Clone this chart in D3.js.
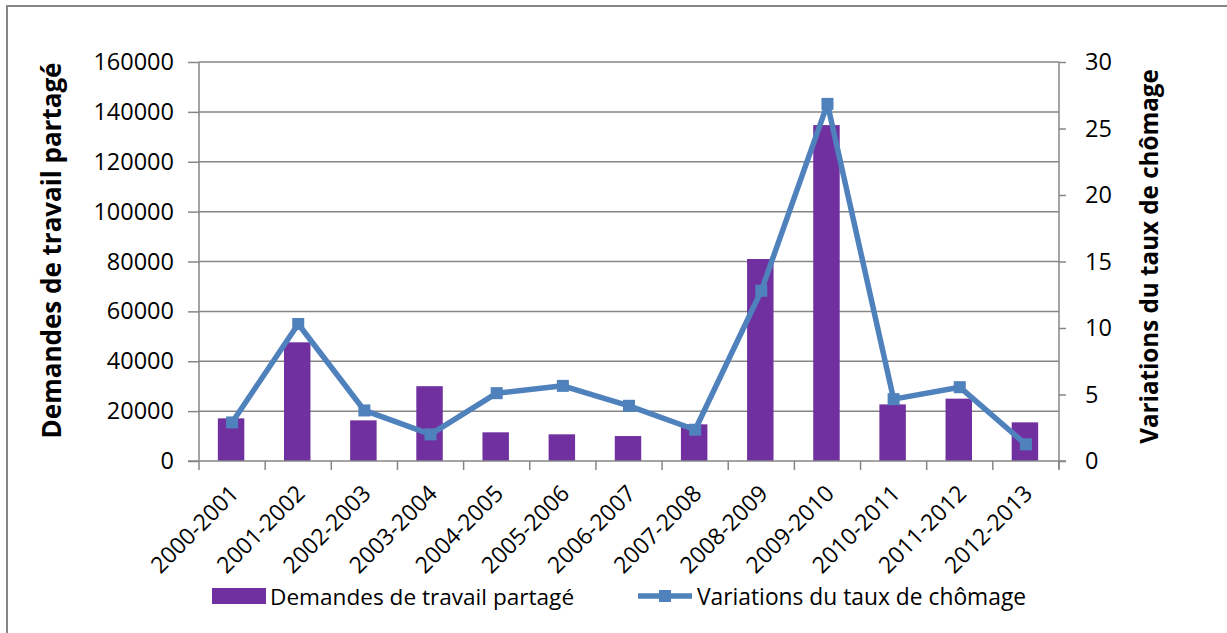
<!DOCTYPE html>
<html>
<head>
<meta charset="utf-8">
<script src="https://cdn.jsdelivr.net/npm/d3@7"></script>
<style>
  html, body { margin: 0; padding: 0; background: #fff; }
  svg text { font-family: "Open Sans", "Noto Sans", sans-serif; fill: #000; }
</style>
</head>
<body>
<svg id="chart" width="1227" height="633"></svg>
<script>
const categories = ["2000-2001","2001-2002","2002-2003","2003-2004","2004-2005","2005-2006","2006-2007","2007-2008","2008-2009","2009-2010","2010-2011","2011-2012","2012-2013"];
const demandes = [17100, 47600, 16300, 30000, 11500, 10700, 10000, 14700, 81000, 134700, 22700, 25000, 15500];
const variations = [2.9, 10.3, 3.8, 2.0, 5.1, 5.65, 4.15, 2.35, 12.8, 26.85, 4.65, 5.55, 1.25];
const leftTicks = [0, 20000, 40000, 60000, 80000, 100000, 120000, 140000, 160000];
const rightTicks = [0, 5, 10, 15, 20, 25, 30];
const seriesNames = ["Demandes de travail partagé", "Variations du taux de chômage"];
const leftTitle = "Demandes de travail partagé";
const rightTitle = "Variations du taux de chômage";

const svg = d3.select("#chart");
const gridColor = "#868686";
const barColor = "#7030A0";
const lineColor = "#4F81BD";

// frame
svg.append("line").attr("x1", 7).attr("x2", 7).attr("y1", 6).attr("y2", 633)
  .attr("stroke", gridColor).attr("stroke-width", 2);
svg.append("line").attr("x1", 6).attr("x2", 1227).attr("y1", 6).attr("y2", 6)
  .attr("stroke", gridColor).attr("stroke-width", 2);

const L = 199, R = 1059, T = 62, B = 461;
const x = d3.scaleBand().domain(categories).range([L, R]).padding(0);
const yL = d3.scaleLinear().domain([0, 160000]).range([B, T]);
const yR = d3.scaleLinear().domain([0, 30]).range([B, T]);

// gridlines
svg.append("g").selectAll("line").data(leftTicks.filter(d => d > 0)).join("line")
  .attr("x1", L).attr("x2", R).attr("y1", d => yL(d)).attr("y2", d => yL(d))
  .attr("stroke", gridColor).attr("stroke-width", 1.5);

// left axis
const gLeft = svg.append("g").attr("transform", `translate(${L},0)`)
  .call(d3.axisLeft(yL).tickValues(leftTicks).tickSize(11).tickPadding(14).tickFormat(d3.format("d")));
gLeft.select(".domain").remove();
gLeft.append("line").attr("x1", 0).attr("x2", 0).attr("y1", T).attr("y2", B)
  .attr("stroke", gridColor).attr("stroke-width", 1.5);
gLeft.selectAll(".tick line").attr("stroke", gridColor).attr("stroke-width", 1.5);
gLeft.selectAll(".tick text").style("font-size", "23.5px").attr("fill", "#000");

// right axis
const gRight = svg.append("g").attr("transform", `translate(${R},0)`)
  .call(d3.axisRight(yR).tickValues(rightTicks).tickSize(7).tickPadding(19));
gRight.select(".domain").remove();
gRight.append("line").attr("x1", 0).attr("x2", 0).attr("y1", T).attr("y2", B + 8)
  .attr("stroke", gridColor).attr("stroke-width", 1.5);
gRight.selectAll(".tick line").attr("stroke", gridColor).attr("stroke-width", 1.5);
gRight.selectAll(".tick text").style("font-size", "23.5px").attr("fill", "#000");

// bars
const barW = x.bandwidth() / 2.5;
svg.append("g").selectAll("rect").data(categories).join("rect")
  .attr("x", (c) => x(c) + x.bandwidth() / 2 - barW / 2 - 1)
  .attr("width", barW)
  .attr("y", (c, i) => yL(demandes[i]))
  .attr("height", (c, i) => yL(0) - yL(demandes[i]))
  .attr("fill", barColor);

// bottom axis
svg.append("line").attr("x1", L - 11).attr("x2", R + 7).attr("y1", B).attr("y2", B)
  .attr("stroke", gridColor).attr("stroke-width", 1.5);
const xTicks = categories.map(c => x(c)).concat([R]);
svg.append("g").selectAll("line").data(xTicks).join("line")
  .attr("x1", d => d).attr("x2", d => d).attr("y1", B).attr("y2", B + 9)
  .attr("stroke", gridColor).attr("stroke-width", 1.5);

// x labels
svg.append("g").selectAll("text").data(categories).join("text")
  .attr("transform", c => `translate(${x(c) + x.bandwidth() / 2 + 8},${B + 34}) rotate(-45)`)
  .attr("text-anchor", "end")
  .style("font-size", "23px")
  .text(c => c);

// line
const line = d3.line().x((d, i) => x(categories[i]) + x.bandwidth() / 2).y(d => yR(d));
svg.append("path").datum(variations).attr("d", line)
  .attr("fill", "none").attr("stroke", lineColor).attr("stroke-width", 5.5)
  .attr("stroke-linejoin", "round");
svg.append("g").selectAll("rect").data(variations).join("rect")
  .attr("x", (d, i) => x(categories[i]) + x.bandwidth() / 2 - 6)
  .attr("y", d => yR(d) - 6)
  .attr("width", 12).attr("height", 12)
  .attr("fill", lineColor);

// axis titles
svg.append("text")
  .attr("transform", `translate(61,${(T + B) / 2 - 11}) rotate(-90)`)
  .attr("text-anchor", "middle")
  .style("font-size", "26px").style("font-weight", "bold")
  .text(leftTitle);
svg.append("text")
  .attr("transform", `translate(1158,${(T + B) / 2 - 5}) rotate(-90)`)
  .attr("text-anchor", "middle")
  .style("font-size", "24.2px").style("font-weight", "bold")
  .text(rightTitle);

// legend
const leg = svg.append("g");
leg.append("rect").attr("x", 212).attr("y", 588).attr("width", 54).attr("height", 16).attr("fill", barColor);
leg.append("text").attr("x", 270).attr("y", 605).style("font-size", "22.6px").text(seriesNames[0]);
leg.append("line").attr("x1", 638).attr("x2", 692).attr("y1", 596).attr("y2", 596)
  .attr("stroke", lineColor).attr("stroke-width", 5.5);
leg.append("rect").attr("x", 659).attr("y", 590).attr("width", 12).attr("height", 12).attr("fill", lineColor);
leg.append("text").attr("x", 697).attr("y", 605).style("font-size", "22.8px").text(seriesNames[1]);
</script>
</body>
</html>
